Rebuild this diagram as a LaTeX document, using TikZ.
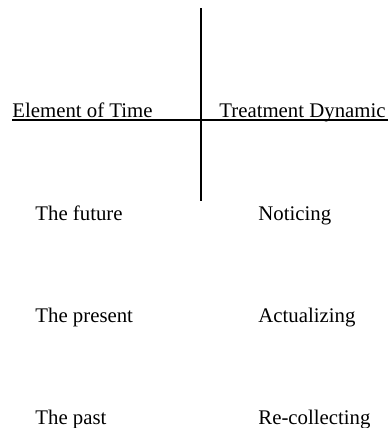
\documentclass[tikz,border=0pt]{standalone}
\usepackage{fontspec}
\setmainfont{Liberation Serif}
\usepackage{tikz}

\begin{document}
\begin{tikzpicture}[
    x=0.5pt, y=-0.5pt,
    heading/.style={anchor=base west, inner sep=0pt, font=\fontsize{10.4}{12}\selectfont},
    entry/.style={anchor=base west, inner sep=0pt, font=\fontsize{10.4}{12}\selectfont},
    axis/.style={draw=black, line width=1.1pt},
    rule/.style={draw=black, line width=0.7pt}
]
\useasboundingbox (0,0) rectangle (390,428);

% Headings
\node[heading] (timehead) at (12,117) {Element of Time};
\node[heading] (treathead) at (219,117) {Treatment Dynamic};

% Rows
\node[entry] (future) at (35,220) {The future};
\node[entry] (present) at (35,322) {The present};
\node[entry] (past) at (35,424) {The past};
\node[entry] (noticing) at (258,220) {Noticing};
\node[entry] (actual) at (258,322) {Actualizing};
\node[entry] (recollect) at (258,424) {Re-collecting};

% Divider ends
\coordinate (divtop) at (201,8);
\coordinate (divbot) at (201,201);
\coordinate (ruleleft) at (12,120);
\coordinate (ruleright) at (388,120);

% Lines
\draw[rule] (ruleleft) -- (ruleright);
\draw[axis] (divtop) -- (divbot);

\end{tikzpicture}
\end{document}
